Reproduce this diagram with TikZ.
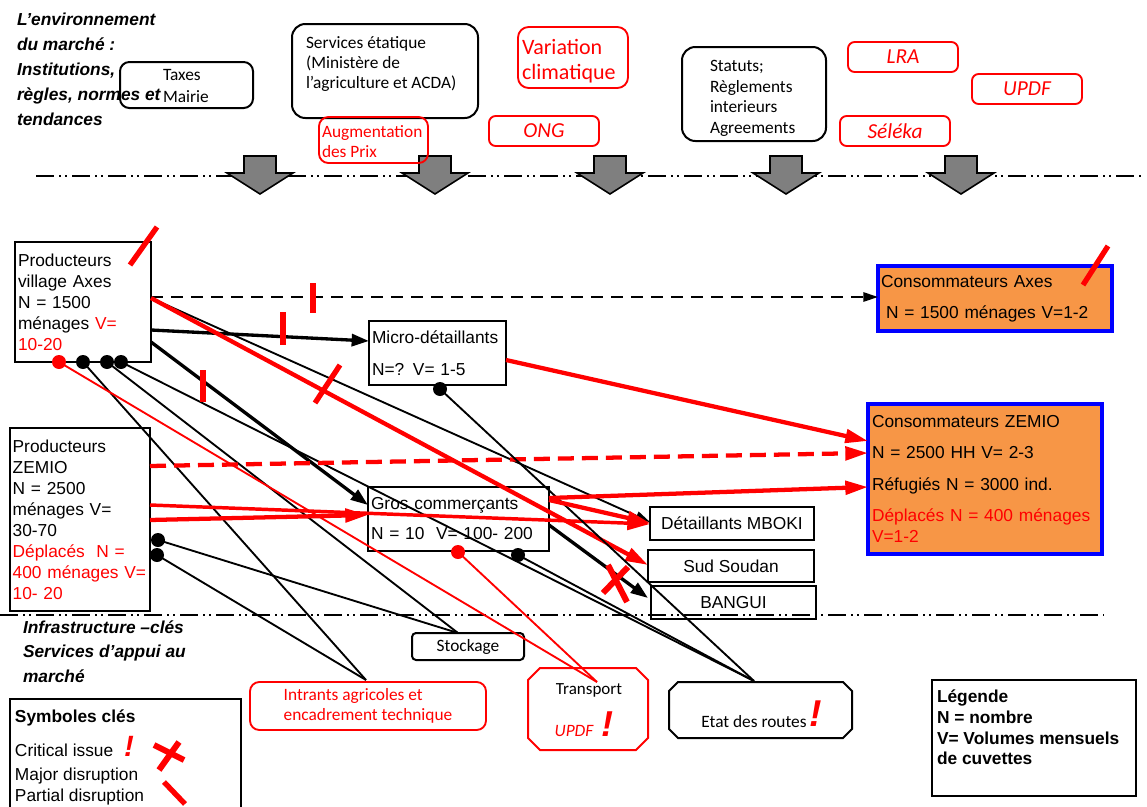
\documentclass[tikz,border=0pt]{standalone}
\usepackage{fontspec}
\setmainfont{Liberation Sans}
\newfontfamily\carl{Carlito}
\usetikzlibrary{arrows.meta,calc}
\definecolor{orng}{HTML}{F79646}
\definecolor{grayfill}{HTML}{7F7F7F}
\newcommand\chamfbox[3]{\draw[#3] ($(#1.north west)+(#2,0)$) -- ($(#1.north east)+(-#2,0)$) -- ($(#1.north east)+(0,#2)$) -- ($(#1.south east)+(0,-#2)$) -- ($(#1.south east)+(-#2,0)$) -- ($(#1.south west)+(#2,0)$) -- ($(#1.south west)+(0,-#2)$) -- ($(#1.north west)+(0,#2)$) -- cycle;}
\begin{document}
\begin{tikzpicture}[x=0.75pt,y=-0.75pt,
  every node/.style={inner sep=0pt,outer sep=0pt},
  ctxt/.style={font=\carl\fontsize{13}{15}\selectfont},
  bbox/.style={draw=black,line width=1.5pt,rounded corners=9pt,anchor=north west},
  rbox/.style={draw=red,line width=1.4pt,rounded corners=5pt,anchor=north west,text=red,font=\carl\itshape\fontsize{16}{19}\selectfont},
  nbox/.style={draw=black,line width=1.5pt,anchor=north west,font=\fontsize{13}{15.75}\selectfont},
  cbox/.style={draw=blue,line width=2.6pt,fill=orng,anchor=north west,font=\fontsize{13}{15.75}\selectfont,align=left},
  dotb/.style={circle,fill=black,minimum size=10.5pt},
  dotr/.style={circle,fill=red,minimum size=10.5pt},
  blk/.style={draw=black,line width=1.4pt},
  blkT/.style={draw=black,line width=2.5pt},
  redT/.style={draw=red,line width=3.2pt},
  redt/.style={draw=red,line width=1.4pt},
  tipS/.style={-{Triangle[length=11pt,width=7pt]}},
  tipM/.style={-{Triangle[length=13pt,width=9pt]}},
  tipL/.style={-{Triangle[length=17pt,width=10pt]}},
  rmark/.style={draw=red,line width=4pt},
  ddd/.style={draw=black,line width=1.5pt,dash pattern=on 13.5pt off 3.75pt on 1.5pt off 3pt on 1.5pt off 3.75pt},
  garrow/.style={draw=black,line width=1.2pt,fill=grayfill},
  excl/.style={font=\bfseries\itshape,text=red,anchor=base},
]
\useasboundingbox (0,0) rectangle (1147,807);

% separator lines
\draw[ddd] (36,176) -- (1141,176);
\draw[ddd] (0,615) -- (1104,615);

% grey block arrows
\foreach \c in {260,435,610,786,961}{
  \draw[garrow] ({\c-16},156) -- ({\c+16},156) -- ({\c+16},173) -- ({\c+33},173) -- (\c,194) -- ({\c-33},173) -- ({\c-16},173) -- cycle;
}

% header texts
\node[font=\bfseries\itshape\fontsize{13}{18.75}\selectfont,align=left,anchor=west] (envtitle) at (17,69) {L’environnement\\du marché :\\Institutions,\\règles, normes et\\tendances};
\node[font=\bfseries\itshape\fontsize{13}{18.4}\selectfont,align=left,anchor=west] (infratitle) at (23,651.5) {Infrastructure –clés\\Services d’appui au\\marché};

% top boxes
\node[bbox,minimum width=99.75pt,minimum height=34.5pt,rounded corners=7pt] (Taxes) at (120,62) {};
\node[font=\carl\fontsize{13}{16.5}\selectfont,align=left,anchor=west] (taxestxt) at (163,86) {Taxes\\Mairie};
\node[bbox,minimum width=139.5pt,minimum height=70.5pt,rounded corners=10pt] (Serv) at (292,24) {};
\node[ctxt,align=left,anchor=west] (servtxt) at (306,64) {Services étatique\\(Ministère de\\l’agriculture et ACDA)};
\node[rbox,minimum width=81.75pt,minimum height=34.5pt,rounded corners=7pt] (Aug) at (319,117) {};
\node[ctxt,text=red,align=left,anchor=west] (augtxt) at (322,142) {Augmentation\\des Prix};
\node[rbox,minimum width=82.5pt,minimum height=45.75pt,rounded corners=8pt] (Var) at (518,27) {};
\node[font=\carl\fontsize{16.5}{18.75}\selectfont,text=red,align=left,anchor=west] (vartxt) at (522,61) {Variation\\climatique};
\node[rbox,minimum width=82.5pt,minimum height=22.5pt] (ONG) at (489,116) {ONG};
\node[bbox,minimum width=108pt,minimum height=70.5pt,rounded corners=10pt] (Stat) at (682,47) {};
\node[font=\carl\fontsize{13}{15.5}\selectfont,align=left,anchor=west] (stattxt) at (710,98.5) {Statuts;\\Règlements\\interieurs\\Agreements};
\node[rbox,minimum width=82.5pt,minimum height=22.5pt] (LRA) at (848,42) {LRA};
\node[rbox,minimum width=82.5pt,minimum height=22.5pt] (UPDF) at (972,74) {UPDF};
\node[rbox,minimum width=82.5pt,minimum height=22.5pt] (Seleka) at (840,116) {Séléka};

% actor boxes
\node[nbox,minimum width=102pt,minimum height=90pt,text width=97.5pt,align=left,inner xsep=2.25pt] (ProdAxes) at (15,242) {Producteurs\\village Axes\\N = 1500\\ménages \textcolor{red}{V=}\\\textcolor{red}{10-20}};
\node[nbox,minimum width=105pt,minimum height=137.25pt,text width=101pt,align=left,inner xsep=2pt] (ProdZ) at (10,428) {Producteurs\\ZEMIO\\N = 2500\\ménages V=\\30-70\\\textcolor{red}{Déplacés~ N =}\\\textcolor{red}{400 ménages V=}\\\textcolor{red}{10- 20}};
\node[nbox,minimum width=102.75pt,minimum height=48pt,text width=98.25pt,align=left,inner xsep=2.25pt] (Micro) at (369,321) {Micro-détaillants\\[8.25pt]N=? V= 1-5};
\node[nbox,minimum width=135.75pt,minimum height=48pt,text width=131.25pt,align=left,inner xsep=2.25pt] (Gros) at (368,487) {Gros commerçants\\[6.75pt]N = 10~ V= 100- 200};
\node[nbox,minimum width=123pt,minimum height=24.75pt] (MBOKI) at (650,507) {Détaillants MBOKI};
\node[nbox,minimum width=124.5pt,minimum height=24pt] (Sud) at (648,550) {Sud Soudan};
\node[nbox,minimum width=123.75pt,minimum height=24.75pt] (Bangui) at (651,586) {BANGUI};
\node[cbox,minimum width=175.5pt,minimum height=48.75pt,text width=171pt,inner xsep=2.25pt] (ConsAxes) at (878,266) {Consommateurs Axes\\[7.5pt]\hspace*{3.75pt}N = 1500 ménages V=1-2};
\node[cbox,minimum width=175.5pt,minimum height=112.5pt,text width=169.5pt,inner xsep=3pt] (ConsZ) at (868,404) {Consommateurs ZEMIO\\[7.5pt]N = 2500 HH V= 2-3\\[8.25pt]Réfugiés N = 3000 ind.\\[7.5pt]\textcolor{red}{Déplacés N = 400 ménages}\\\textcolor{red}{V=1-2}};

% bottom boxes
\node[draw=black,line width=1.5pt,rounded corners=3pt,anchor=north west,minimum width=84pt,minimum height=20.25pt,ctxt] (Stock) at (412,633) {Stockage};
\node[draw=red,line width=1.4pt,rounded corners=7pt,anchor=north west,minimum width=177pt,minimum height=36pt,ctxt,text=red,align=left] (Intr) at (250,682) {Intrants agricoles et\\encadrement technique};
\node[anchor=north west,minimum width=90pt,minimum height=61.5pt] (Transp) at (528,668) {};
\chamfbox{Transp}{12}{draw=red,line width=1.5pt}
\node[font=\carl\fontsize{12.75}{15}\selectfont,anchor=base] (transptxt) at (589,694) {Transport};
\node[font=\carl\itshape\fontsize{13}{15}\selectfont,text=red,anchor=base] (transpupdf) at (574,736) {UPDF};
\node[excl,font=\bfseries\itshape\fontsize{27}{30}\selectfont] (transpexcl) at (607,736) {!};
\node[anchor=north west,minimum width=137.25pt,minimum height=42pt] (Etat) at (669,682) {};
\chamfbox{Etat}{9}{draw=black,line width=1.5pt}
\node[ctxt,anchor=base] (etattxt) at (754,727) {Etat des routes};
\node[excl,font=\bfseries\itshape\fontsize{28}{30}\selectfont] (etatexcl) at (816,726) {!};

% legend boxes
\node[draw=black,line width=1.5pt,anchor=north west,minimum width=153pt,minimum height=87pt] (Leg) at (932,680) {};
\node[font=\bfseries\fontsize{13}{15.5}\selectfont,align=left,anchor=north west] (legtxt) at (937,690) {Légende\\N = nombre\\V= Volumes mensuels\\de cuvettes};
\node[draw=black,line width=1.5pt,anchor=north west,minimum width=173.25pt,minimum height=86.25pt] (Sym) at (10,699) {};
\node[font=\bfseries\fontsize{13}{15}\selectfont,anchor=base west] (sym1) at (15,722) {Symboles clés};
\node[font=\fontsize{13}{15}\selectfont,anchor=base west] (sym2) at (15,756) {Critical issue};
\node[font=\fontsize{13}{15}\selectfont,anchor=base west] (sym3) at (15,780) {Major disruption};
\node[font=\fontsize{13}{15}\selectfont,anchor=base west] (sym4) at (15,801) {Partial disruption};
\node[excl,font=\bfseries\itshape\fontsize{22}{24}\selectfont] (symexcl) at (129,756) {!};

% dots
\node[dotr] (dA0) at (59,362) {};
\node[dotb] (dA1) at (83,362) {};
\node[dotb] (dA2) at (107,362) {};
\node[dotb] (dA3) at (121,362) {};
\node[dotb] (dZ1) at (158,540) {};
\node[dotb] (dZ2) at (157,555) {};
\node[dotb] (dM) at (440,389) {};
\node[dotr] (dGr) at (458,552) {};
\node[dotb] (dGb) at (518,555) {};

% connectors
\draw[blk,tipS,dash pattern=on 9pt off 6pt] ($(ProdAxes.east)+(0,-5)$) -- ($(ConsAxes.west)+(0,-1.5)$);
\draw[blkT,tipM] ($(ProdAxes.east)+(0,28)$) -- ($(Micro.west)+(0,-12)$);
\draw[blk,tipS] ($(ProdAxes.east)+(0,-4)$) -- ($(MBOKI.west)+(0,-1.5)$);
\draw[blkT,tipM] ($(ProdAxes.east)+(0,40)$) -- ($(Gros.west)+(0,-14)$);
\draw[redT,tipL] ($(ProdAxes.east)+(0,-4)$) -- ($(Sud.west)+(0,-1)$);
\draw[blk] (dA3.center) -- ($(Etat.north)+(-6.5,-1)$);
\draw[blk] (dA2.center) -- ($(Stock.north)+(-10,0)$);
\draw[blk] (dA1.center) -- ($(Intr.north)+(-2,-2)$);
\draw[redt] (dA0.center) -- ($(Transp.north)+(9,14)$);
\draw[blk] (dZ1.center) -- ($(Stock.north)+(-10,0)$);
\draw[blk] (dZ2.center) -- ($(Intr.north)+(-2,-2)$);
\draw[redT,tipL,dash pattern=on 12pt off 6pt] ($(ProdZ.east)+(0,-53.5)$) -- ($(ConsZ.west)+(0,-26)$);
\draw[redT,line width=2.6pt,tipL] ($(ProdZ.east)+(0,-14.5)$) -- ($(MBOKI.west)+(0,0.5)$);
\draw[redT,tipL] ($(ProdZ.east)+(0,0.5)$) -- ($(Gros.west)+(0,-4)$);
\draw[redT,tipL] ($(Micro.east)+(0,7)$) -- ($(ConsZ.west)+(0,-38)$);
\draw[blk] (dM.center) -- ($(Etat.north)+(-6.5,-1)$);
\draw[redT,tipL] ($(Gros.east)+(0,-21)$) -- ($(ConsZ.west)+(0,8)$);
\draw[redT,tipL] ($(Gros.east)+(0,-19)$) -- ($(MBOKI.west)+(0,-0.5)$);
\draw[blkT,tipM] ($(Gros.east)+(0,6)$) -- ($(Bangui.west)+(-3,-4.5)$);
\draw[blk] (dGb.center) -- ($(Etat.north)+(-6.5,-1)$);
\draw[redt] (dGr.center) -- ($(Transp.north)+(9,14)$);

% disruption marks
\draw[rmark] (130,265) -- (157,227);
\draw[rmark] (1083,285) -- (1108,246);
\draw[rmark] (315,403) -- (340,365);
\draw[rmark] (313,283) -- (313,313);
\draw[rmark] (283,312) -- (283,345);
\draw[rmark] (203,370) -- (203,402);
\draw[rmark,line width=4.5pt] (608,565) -- (627,602);
\draw[rmark,line width=4.5pt] (603,593) -- (628,567);
\draw[rmark,line width=4.5pt] (154,745) -- (184,760);
\draw[rmark,line width=4.5pt] (179,742) -- (159,770);
\draw[rmark] (164,782) -- (185,804);
\end{tikzpicture}
\end{document}
